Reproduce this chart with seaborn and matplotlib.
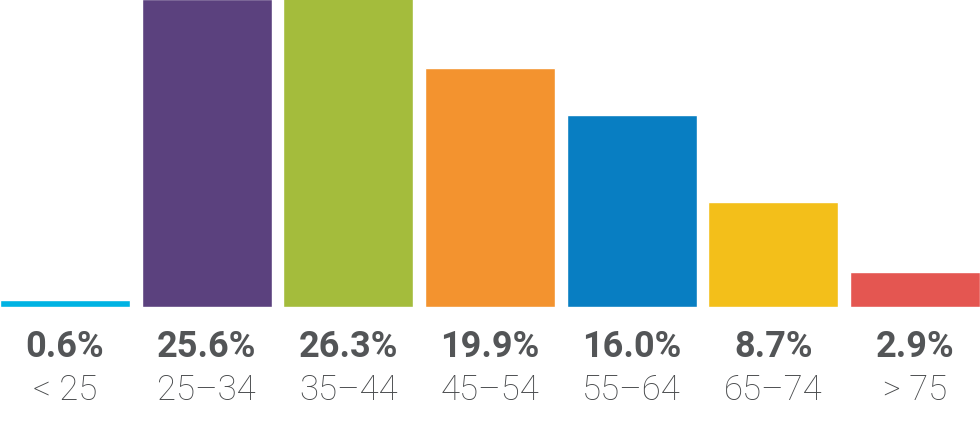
import matplotlib
matplotlib.use("Agg")
import matplotlib.pyplot as plt
import seaborn as sns
import pandas as pd
import matplotlib.transforms as mtransforms

categories = ["< 25", "25\u201334", "35\u201344", "45\u201354", "55\u201364", "65\u201374", "> 75"]
values = [0.6, 25.6, 26.3, 19.9, 16.0, 8.7, 2.9]
pct_labels = ["0.6%", "25.6%", "26.3%", "19.9%", "16.0%", "8.7%", "2.9%"]
colors = ["#00B3E3", "#5B417E", "#A4BC3C", "#F3932F", "#087EC2", "#F3BF1A", "#E45651"]

df = pd.DataFrame({"cat": categories, "val": values})

sns.set_theme(style="white")
plt.rcParams["font.family"] = ["Roboto", "DejaVu Sans"]

fig = plt.figure(figsize=(9.8, 4.21), dpi=100)
ax = fig.add_axes([0, 1 - 307 / 421, 1, 307 / 421])
sns.barplot(data=df, x="cat", y="val", hue="cat", palette=colors, legend=False,
            width=0.918, saturation=1, ax=ax)
ax.set_xlim(-0.459, 6.459)
ax.set_ylim(0, 25.55)
ax.set_axis_off()

trans = mtransforms.blended_transform_factory(ax.transData, fig.transFigure)
for i, (p, c) in enumerate(zip(pct_labels, categories)):
    fig.text(i, 1 - 347 / 421, p, transform=trans, ha="center", va="center",
             fontsize=26, fontweight="bold", color="#535557")
    fig.text(i, 1 - 390 / 421, c, transform=trans, ha="center", va="center",
             fontsize=25, fontweight="light", color="#47494B")

fig.savefig("out.png", dpi=100)
